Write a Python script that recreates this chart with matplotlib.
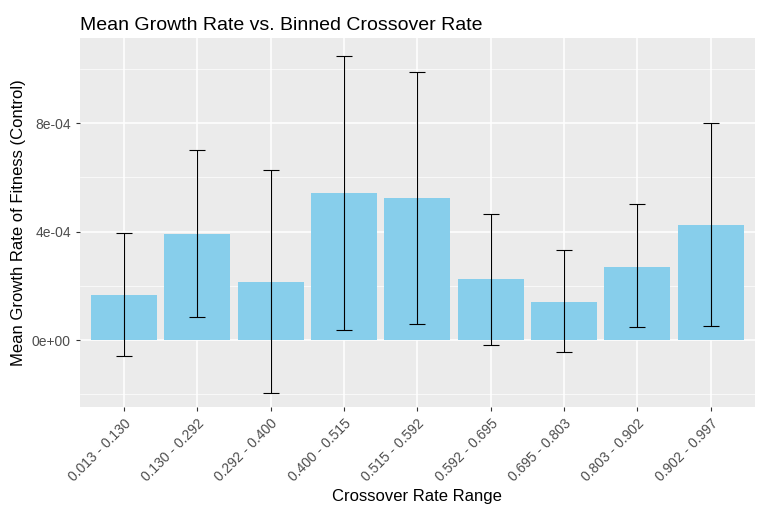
import matplotlib
matplotlib.use("Agg")
import matplotlib.pyplot as plt
import numpy as np

plt.rcParams.update({"font.family": ["Liberation Sans", "DejaVu Sans"]})

bins = ["0.013 - 0.130", "0.130 - 0.292", "0.292 - 0.400", "0.400 - 0.515",
        "0.515 - 0.592", "0.592 - 0.695", "0.695 - 0.803", "0.803 - 0.902",
        "0.902 - 0.997"]
mean = [1.66e-4, 3.91e-4, 2.14e-4, 5.42e-4, 5.24e-4, 2.25e-4, 1.40e-4, 2.69e-4, 4.24e-4]
lower = [-0.59e-4, 0.85e-4, -1.96e-4, 0.37e-4, 0.59e-4, -0.18e-4, -0.44e-4, 0.48e-4, 0.52e-4]
upper = [3.95e-4, 7.00e-4, 6.27e-4, 10.48e-4, 9.89e-4, 4.65e-4, 3.32e-4, 5.02e-4, 8.00e-4]

fig = plt.figure(figsize=(7.66, 5.21), dpi=100)
ax = fig.add_axes([0.1044, 0.2188, 0.881, 0.708])
ax.set_facecolor("#EBEBEB")
for s in ax.spines.values():
    s.set_visible(False)

x = np.arange(len(bins))
m = np.array(mean)
ax.bar(x, m, width=0.9, color="#87CEEB", zorder=2)
ax.errorbar(x, m, yerr=[m - np.array(lower), np.array(upper) - m], fmt="none",
            ecolor="black", elinewidth=0.8, capsize=6, capthick=0.8, zorder=3)

ax.set_xlim(-0.6, len(bins) - 0.4)
ax.set_ylim(-2.47e-4, 11.14e-4)
ax.set_yticks([0, 4e-4, 8e-4])
ax.set_yticklabels(["0e+00", "4e-04", "8e-04"])
ax.set_yticks([-2e-4, 2e-4, 6e-4, 10e-4], minor=True)
ax.set_xticks(x)
ax.set_xticklabels(bins, rotation=45, ha="right", rotation_mode="anchor")
ax.grid(which="major", color="white", lw=1.1, zorder=0)
ax.grid(which="minor", axis="y", color="white", lw=0.5, zorder=0)
ax.set_axisbelow(True)
ax.tick_params(which="both", length=3, color="#333333", labelcolor="#4D4D4D", labelsize=10)
ax.tick_params(which="minor", length=0)

ax.set_xlabel("Crossover Rate Range", fontsize=12)
ax.set_ylabel("Mean Growth Rate of Fitness (Control)", fontsize=12)
ax.set_title("Mean Growth Rate vs. Binned Crossover Rate", fontsize=14, loc="left")

fig.savefig("out.png", dpi=100)
